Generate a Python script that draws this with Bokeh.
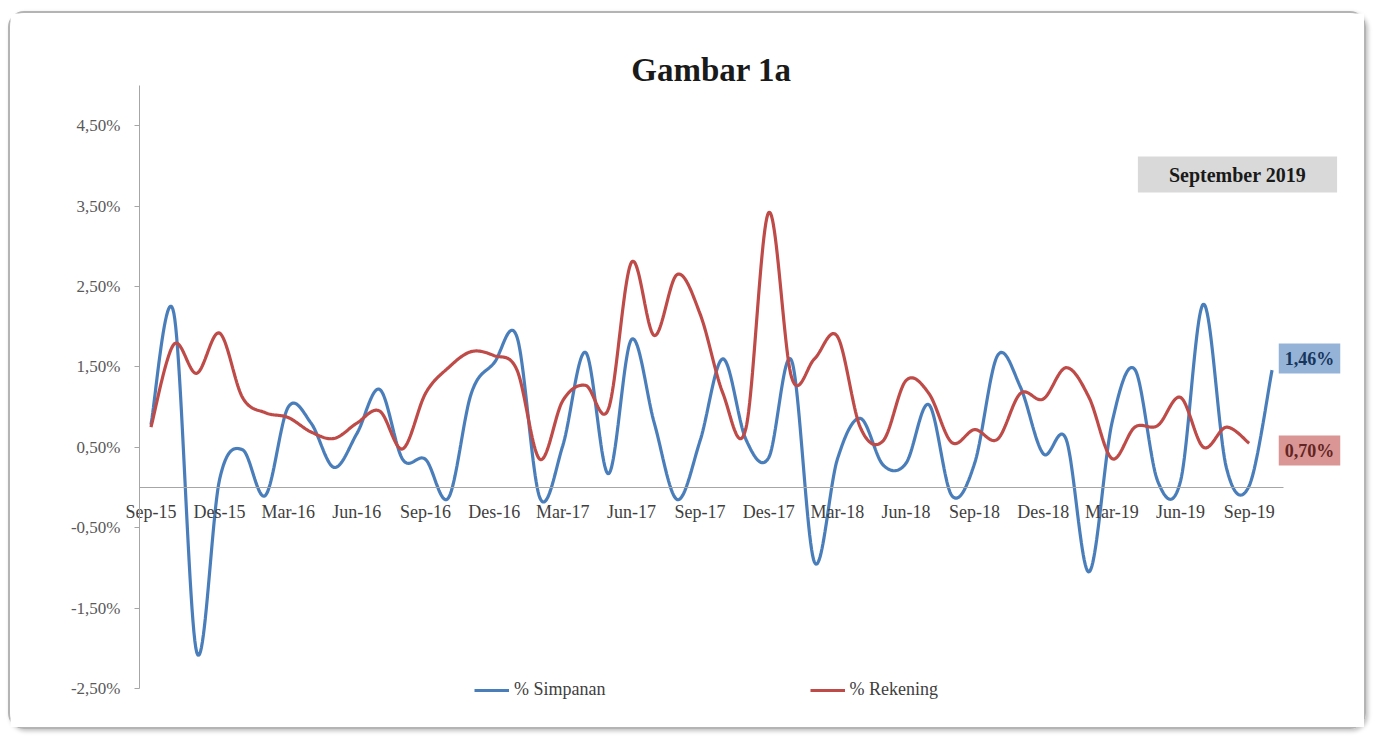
import numpy as np
from bokeh.plotting import figure
from bokeh.models import (Range1d, FixedTicker, CustomJSTickFormatter, Label,
                          Legend, LegendItem, LinearAxis)
from bokeh.embed import file_html
from bokeh.resources import INLINE

# ---------------- data ----------------
month_labels = ["Sep-15", "Des-15", "Mar-16", "Jun-16", "Sep-16", "Des-16",
                "Mar-17", "Jun-17", "Sep-17", "Des-17", "Mar-18", "Jun-18",
                "Sep-18", "Des-18", "Mar-19", "Jun-19", "Sep-19"]
label_index = list(range(0, 49, 3))

simpanan = [0.78, 2.17, -2.05, 0.10, 0.47, -0.10, 1.00, 0.80, 0.25, 0.67,
            1.22, 0.35, 0.35, -0.13, 1.17, 1.55, 1.87, -0.13, 0.52, 1.68,
            0.17, 1.84, 0.80, -0.15, 0.58, 1.60, 0.60, 0.37, 1.58, -0.93,
            0.35, 0.86, 0.28, 0.30, 1.03, -0.10, 0.30, 1.64, 1.25, 0.42,
            0.60, -1.05, 0.80, 1.47, 0.08, 0.08, 2.28, 0.25, 0.02, 1.46]

rekening = [0.75, 1.78, 1.42, 1.92, 1.12, 0.93, 0.87, 0.69, 0.61, 0.80,
            0.95, 0.48, 1.17, 1.49, 1.69, 1.64, 1.46, 0.35, 1.08, 1.27,
            0.98, 2.80, 1.89, 2.65, 2.16, 1.17, 0.73, 3.42, 1.37, 1.60,
            1.88, 0.75, 0.58, 1.33, 1.17, 0.56, 0.72, 0.60, 1.17, 1.10,
            1.49, 1.12, 0.36, 0.75, 0.77, 1.12, 0.50, 0.75, 0.55]

y_ticks = [-2.5, -1.5, -0.5, 0.5, 1.5, 2.5, 3.5, 4.5]
y_bounds = (-2.5, 5.0)
last_simpanan_label = "1,46%"
last_rekening_label = "0,70%"
period_label = "September 2019"
title_text = "Gambar 1a"


def smooth(ys, n=24):
    """Excel-like smoothed line (Catmull-Rom Bezier) through the data points."""
    pts = np.column_stack([np.arange(len(ys), dtype=float), np.array(ys, float)])
    ext = np.vstack([pts[0], pts, pts[-1]])
    out = [pts[0]]
    ts = np.linspace(0, 1, n + 1)[1:]
    for i in range(len(pts) - 1):
        p0, p1, p2, p3 = ext[i], ext[i + 1], ext[i + 2], ext[i + 3]
        c1 = p1 + (p2 - p0) / 6.0
        c2 = p2 - (p3 - p1) / 6.0
        for t in ts:
            out.append((1 - t) ** 3 * p1 + 3 * (1 - t) ** 2 * t * c1
                       + 3 * (1 - t) * t ** 2 * c2 + t ** 3 * p2)
    out = np.array(out)
    return out[:, 0], out[:, 1]


SERIF = "Liberation Serif"
BLUE = "#4a7ebb"
RED = "#be4b48"

n_cat = len(simpanan)
x_lo = -0.5
x_hi = n_cat - 0.5

p = figure(width=1358, height=718,
           x_range=Range1d(-6.138, 53.215), y_range=Range1d(-3.035, 5.8955),
           output_backend="svg", toolbar_location=None,
           x_axis_location=None, y_axis_location=None,
           min_border_left=0, min_border_right=0,
           min_border_top=0, min_border_bottom=0,
           background_fill_color="white", border_fill_color="white",
           styles={"margin-left": "8px", "margin-top": "11px",
                   "border": "2px solid #b4b4b4", "border-radius": "16px",
                   "box-shadow": "2px 2px 4px rgba(0,0,0,0.25)"})
p.outline_line_color = None
p.grid.visible = False

# y axis drawn at the left edge of the category range
yax = LinearAxis(fixed_location=x_lo, bounds=y_bounds)
yax.ticker = FixedTicker(ticks=y_ticks)
yax.formatter = CustomJSTickFormatter(
    code="return tick.toFixed(2).replace('.', ',') + '%';")
yax.axis_line_color = "#a6a6a6"
yax.major_tick_line_color = "#a6a6a6"
yax.major_tick_out = 5
yax.major_tick_in = 0
yax.minor_tick_line_color = None
yax.major_label_text_font = SERIF
yax.major_label_text_font_size = "17px"
yax.major_label_text_color = "#595959"
yax.major_label_standoff = 14
p.add_layout(yax, "left")

# x axis crossing at zero
xax = LinearAxis(fixed_location=0, bounds=(x_lo, x_hi))
xax.ticker = FixedTicker(ticks=label_index)
xax.major_label_overrides = {i: lab for i, lab in zip(label_index, month_labels)}
xax.axis_line_color = "#a6a6a6"
xax.major_tick_line_color = None
xax.minor_tick_line_color = None
xax.major_label_text_font = SERIF
xax.major_label_text_font_size = "18px"
xax.major_label_text_color = "#404040"
xax.major_label_standoff = 9
p.add_layout(xax, "below")

# lines
bx, by = smooth(simpanan)
rx, ry = smooth(rekening)
r_blue = p.line(bx, by, line_color=BLUE, line_width=3.2)
r_red = p.line(rx, ry, line_color=RED, line_width=3.2)

legend = Legend(items=[LegendItem(label="% Simpanan", renderers=[r_blue]),
                       LegendItem(label="% Rekening", renderers=[r_red])],
                orientation="horizontal", location=(464, 31),
                spacing=204, glyph_width=35, label_standoff=5,
                padding=4, border_line_color=None, background_fill_alpha=0,
                label_text_font=SERIF, label_text_font_size="18px",
                label_text_color="#404040")
p.add_layout(legend, "center")

# title
p.add_layout(Label(x=701, y=662, x_units="screen", y_units="screen",
                   text=title_text, text_align="center",
                   text_baseline="middle", text_font=SERIF,
                   text_font_size="33px", text_font_style="bold",
                   text_color="#1a1a1a"))

# annotation boxes
p.add_layout(Label(x=1227, y=557, x_units="screen", y_units="screen",
                   text=period_label, text_align="center", text_baseline="middle",
                   text_font=SERIF, text_font_size="20px", text_font_style="bold",
                   text_color="#1a1a1a", background_fill_color="#d9d9d9",
                   padding=(31, 7)))
p.add_layout(Label(x=1299, y=373, x_units="screen", y_units="screen",
                   text=last_simpanan_label, text_align="center",
                   text_baseline="middle", text_font=SERIF,
                   text_font_size="18px", text_font_style="bold",
                   text_color="#17365d", background_fill_color="#95b3d7",
                   padding=(6, 5)))
p.add_layout(Label(x=1299, y=281, x_units="screen", y_units="screen",
                   text=last_rekening_label, text_align="center",
                   text_baseline="middle", text_font=SERIF,
                   text_font_size="18px", text_font_style="bold",
                   text_color="#632523", background_fill_color="#da9694",
                   padding=(6, 5)))

open("out.html", "w").write(file_html(p, INLINE))
